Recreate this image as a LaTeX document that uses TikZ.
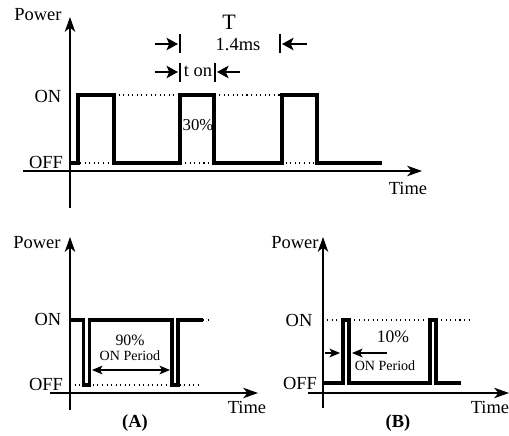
\documentclass[tikz,border=0pt]{standalone}
\usepackage{fontspec}
\setmainfont{Liberation Serif}
\usetikzlibrary{arrows.meta}
\tikzset{
  axis/.style={line width=0.6pt, -{Stealth[length=8.5pt,width=6pt,inset=2.5pt]}},
  wave/.style={line width=2pt, line join=miter},
  level/.style={dotted, line width=0.6pt},
  lbl/.style={font=\fontsize{10.5}{12}\selectfont, inner sep=0pt},
  note/.style={font=\fontsize{8}{9}\selectfont, inner sep=0pt},
  mark arrow/.style={line width=1.4pt, -{Stealth[length=6.5pt,width=7pt,inset=1.5pt]}},
  span arrow/.style={line width=0.6pt, -{Stealth[length=6pt,width=5pt,inset=1.5pt]}},
  bar/.style={line width=1.5pt},
}
\begin{document}
\begin{tikzpicture}[x=0.02cm, y=-0.02cm]
\useasboundingbox (0,0) rectangle (509,435);
% top graph
\coordinate (yb1) at (70,208); \coordinate (yt1) at (70,17);
\coordinate (xl1) at (23,171); \coordinate (xr1) at (422,171);
\draw [axis] (yb1) -- (yt1);
\draw [axis] (xl1) -- (xr1);
\node [lbl] (pw1) at (38,15) {Power};
\node [lbl] (on1) at (48,96) {ON};
\node [lbl] (off1) at (46,162) {OFF};
\node [lbl] (tm1) at (408,188) {Time};
\draw [level] (114,95) -- (282,95);
\draw [level] (71,163) -- (317,163);
\draw [wave] (71,163) -- (78,163) -- (78,95) -- (114,95) -- (114,163) -- (180,163) -- (180,95)
  -- (214,95) -- (214,163) -- (282,163) -- (282,95) -- (317,95) -- (317,163) -- (382,163);
% period T
\coordinate (ta) at (155,44); \coordinate (tb) at (178,44);
\coordinate (tc) at (307,44); \coordinate (td) at (282,44);
\draw [mark arrow] (ta) -- (tb);
\draw [mark arrow] (tc) -- (td);
\draw [bar] (180,34) -- (180,53);
\draw [bar] (280,34) -- (280,53);
\node [font=\fontsize{12.5}{14}\selectfont, inner sep=0pt] (per) at (229,22) {T};
\node [lbl] (per val) at (238,45) {1.4ms};
% t on
\coordinate (oa) at (155,72); \coordinate (ob) at (178,72);
\coordinate (oc) at (240,72); \coordinate (od) at (217,72);
\draw [mark arrow] (oa) -- (ob);
\draw [mark arrow] (oc) -- (od);
\draw [bar] (180,63) -- (180,82);
\draw [bar] (215,63) -- (215,82);
\node [lbl] (ton) at (198,71) {t on};
\node [font=\fontsize{9.5}{11}\selectfont, inner sep=0pt] (duty1) at (198,125) {30\%};
% graph A
\coordinate (yb2) at (70,410); \coordinate (yt2) at (70,237);
\coordinate (xl2) at (50,393); \coordinate (xr2) at (258,393);
\draw [axis] (yb2) -- (yt2);
\draw [axis] (xl2) -- (xr2);
\node [lbl] (pw2) at (37,243) {Power};
\node [lbl] (on2) at (48,319) {ON};
\node [lbl] (off2) at (46,384) {OFF};
\node [lbl] (tm2) at (247,407) {Time};
\node [lbl, font=\fontsize{10.5}{12}\selectfont\bfseries] (capA) at (135,423) {(A)};
\draw [level] (203,320) -- (212,320);
\draw [level] (70,385) -- (200,385);
\draw [wave] (70,320) -- (83.5,320) -- (83.5,385) -- (89.5,385) -- (89.5,320) -- (172,320) -- (172,385)
  -- (178,385) -- (178,320) -- (203,320);
\node [note, font=\fontsize{9}{10}\selectfont] (duty2) at (130,340) {90\%};
\node [note] (per2) at (130,356) {ON Period};
\coordinate (sa) at (92,370); \coordinate (sb) at (170,370);
\draw [span arrow, {Stealth[length=6pt,width=5pt,inset=1.5pt]}-{Stealth[length=6pt,width=5pt,inset=1.5pt]}] (sa) -- (sb);
% graph B
\coordinate (yb3) at (323,408); \coordinate (yt3) at (323,237);
\coordinate (xl3) at (308,393); \coordinate (xr3) at (509,393);
\draw [axis] (yb3) -- (yt3);
\draw [axis] (xl3) -- (xr3);
\node [lbl] (pw3) at (295,243) {Power};
\node [lbl] (on3) at (299,320) {ON};
\node [lbl] (off3) at (300,383) {OFF};
\node [lbl] (tm3) at (490,407) {Time};
\node [lbl, font=\fontsize{10.5}{12}\selectfont\bfseries] (capB) at (398,423) {(B)};
\draw [level] (327,320) -- (470,320);
\draw [wave] (324,383) -- (343,383) -- (343,320) -- (349,320) -- (349,383) -- (430,383) -- (430,320)
  -- (436,320) -- (436,383) -- (461,383);
\node [note, font=\fontsize{10}{11}\selectfont] (duty3) at (393,337) {10\%};
\node [note] (per3) at (385,366) {ON Period};
\coordinate (ba) at (325,353); \coordinate (bb) at (340,353);
\coordinate (bc) at (387,353); \coordinate (bd) at (352,353);
\draw [span arrow] (ba) -- (bb);
\draw [span arrow] (bc) -- (bd);
\end{tikzpicture}
\end{document}
